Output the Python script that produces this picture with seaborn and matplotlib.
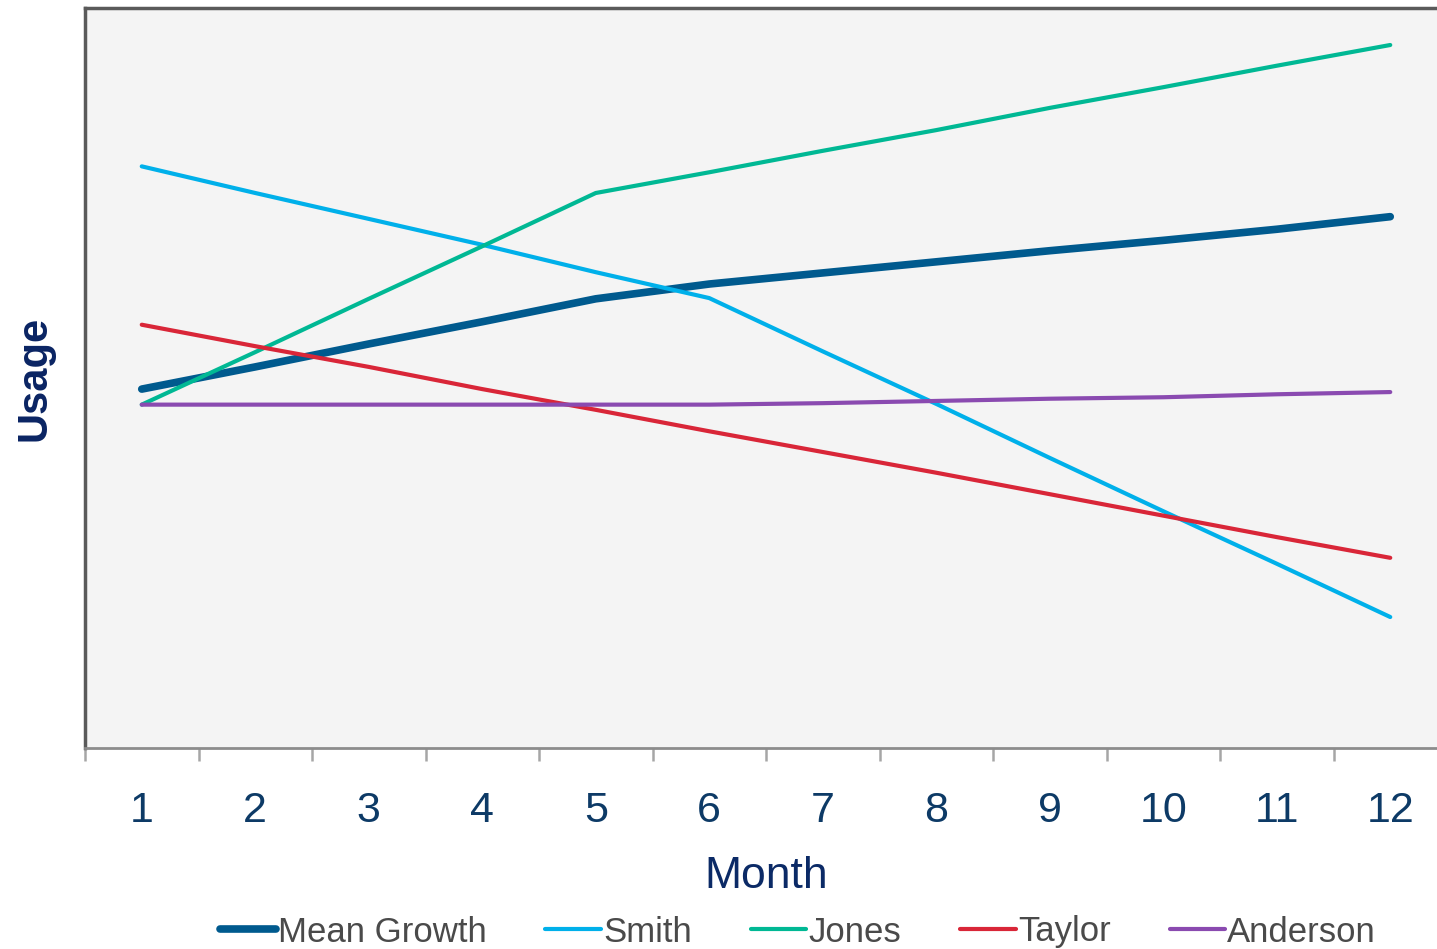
import numpy as np
import pandas as pd
import matplotlib
matplotlib.use("Agg")
import matplotlib.pyplot as plt
import seaborn as sns

# datos (escala arbitraria 0-100, sin etiquetas en el eje y)
months = list(range(1, 13))
mean_growth = [48.5, 51.5, 54.6, 57.6, 60.7, 62.7, 64.2, 65.7, 67.2, 68.6, 70.1, 71.8]
smith = [78.6, 75.0, 71.5, 68.0, 64.3, 60.8, 53.6, 46.5, 39.2, 32.0, 24.9, 17.7]
jones = [46.4, 53.5, 60.7, 67.8, 75.0, 77.8, 80.7, 83.5, 86.5, 89.3, 92.2, 95.0]
taylor = [57.2, 54.3, 51.5, 48.5, 45.7, 42.8, 40.0, 37.2, 34.3, 31.4, 28.5, 25.7]
anderson = [46.4, 46.4, 46.4, 46.4, 46.4, 46.4, 46.6, 46.9, 47.2, 47.4, 47.8, 48.1]

series_names = ["Mean Growth", "Smith", "Jones", "Taylor", "Anderson"]
series_values = [mean_growth, smith, jones, taylor, anderson]
colors = ["#005A8E", "#00B0EA", "#00B894", "#D92638", "#8A4AB0"]
widths = [5.5, 3.0, 3.0, 3.0, 3.0]

df = pd.DataFrame({"Month": months})
for name, vals in zip(series_names, series_values):
    df[name] = vals

sns.set_style("white")
plt.rcParams["font.family"] = ["Liberation Sans", "DejaVu Sans"]

fig = plt.figure(figsize=(14.37, 9.49), dpi=100)
ax = fig.add_axes([85 / 1437, 1 - 748 / 949, (1447 - 85) / 1437, (748 - 8) / 949])
ax.set_facecolor("#F4F4F4")

for name, col, lw in zip(series_names, colors, widths):
    sns.lineplot(data=df, x="Month", y=name, ax=ax, color=col, linewidth=lw,
                 label=name, solid_capstyle="round")

ax.set_xlim(0.5, 12.5)
ax.set_ylim(0, 100)
ax.set_yticks([])

# ticks entre categorias, etiquetas en el centro
ax.set_xticks(np.arange(0.5, 12.5, 1.0))
ax.set_xticklabels([])
ax.set_xticks(months, minor=True)
ax.set_xticklabels([str(m) for m in months], minor=True, fontsize=31, color="#0D3A66")
ax.tick_params(axis="x", which="major", direction="out", length=9, width=1.8,
               color="#A6A6A6", bottom=True)
ax.tick_params(axis="x", which="minor", length=0, pad=31)

for side in ["left", "top"]:
    ax.spines[side].set_color("#5A5A5A")
    ax.spines[side].set_linewidth(2.5)
ax.spines["bottom"].set_color("#8C8C8C")
ax.spines["bottom"].set_linewidth(2)
ax.spines["right"].set_visible(False)

ax.set_xlabel("Month", fontsize=32, color="#0B2A66", labelpad=18)
ax.set_ylabel("Usage", fontsize=30, color="#0A2463", fontweight="bold", labelpad=22)

handles, labels = ax.get_legend_handles_labels()
ax.get_legend().remove()
leg = fig.legend(handles, labels, loc="center", bbox_to_anchor=(798 / 1437, 1 - 932 / 949),
                 ncol=5, frameon=False, fontsize=25, handlelength=1.6,
                 handletextpad=0.06, columnspacing=1.7, labelcolor="#4A4A4A")
for line in leg.get_lines():
    line.set_solid_capstyle("round")

fig.savefig("out.png", dpi=100)
